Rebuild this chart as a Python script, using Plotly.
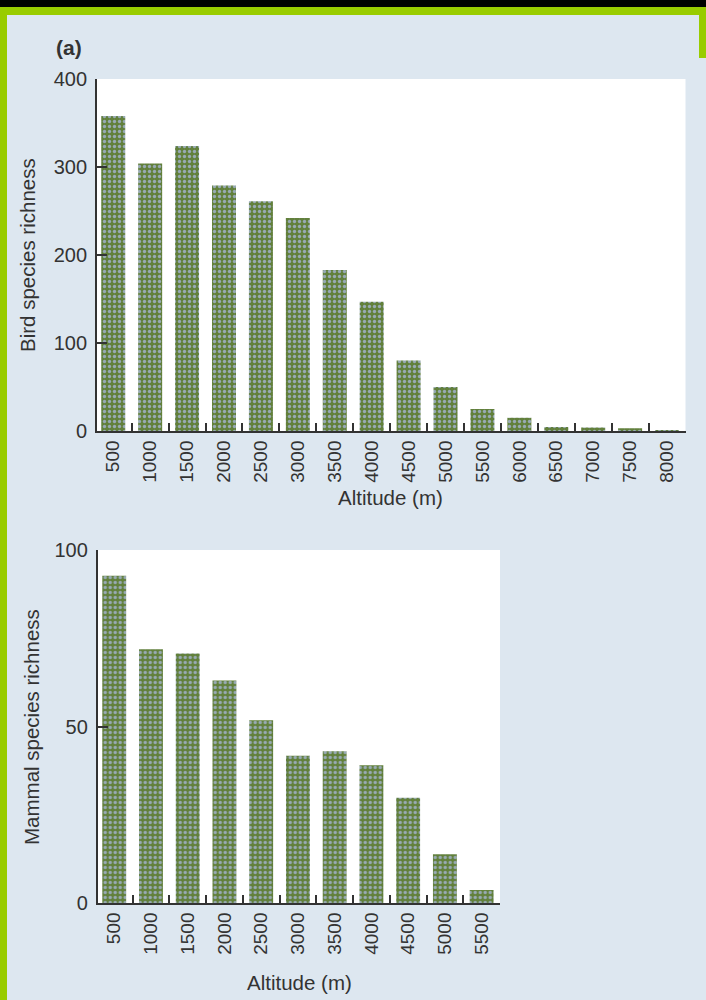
import plotly.graph_objects as go

W, H = 706, 1000

# ---- data ----
bird_altitudes = ["500", "1000", "1500", "2000", "2500", "3000", "3500", "4000",
                  "4500", "5000", "5500", "6000", "6500", "7000", "7500", "8000"]
bird_richness = [358, 304, 324, 279, 261, 242, 183, 147, 80, 50, 25, 15, 4.5, 4, 3, 1]

mammal_altitudes = ["500", "1000", "1500", "2000", "2500", "3000", "3500", "4000",
                    "4500", "5000", "5500"]
mammal_richness = [92.7, 71.9, 70.7, 63, 51.8, 41.7, 43.0, 39.0, 29.8, 13.8, 3.7]

bird_yticks = [0, 100, 200, 300, 400]
mammal_yticks = [0, 50, 100]

# ---- helpers (pixel -> paper) ----
def px(x):
    return x / W

def py(y):
    return 1 - y / H

FONT = "Liberation Sans, Arial, sans-serif"
TXT = "#333333"
AXC = "#333333"
BAR_BG = "#62803c"
BAR_DOT = "#98aab4"

bar_marker = dict(color=BAR_BG, line=dict(width=0),
                  pattern=dict(shape=".", bgcolor=BAR_BG, fgcolor=BAR_DOT,
                               size=5, solidity=0.35, fillmode="replace"))

fig = go.Figure()
fig.add_trace(go.Bar(x=bird_altitudes, y=bird_richness, marker=bar_marker,
                     width=0.65, xaxis="x", yaxis="y", showlegend=False))
fig.add_trace(go.Bar(x=mammal_altitudes, y=mammal_richness, marker=bar_marker,
                     width=0.65, xaxis="x2", yaxis="y2", showlegend=False))

xcommon = dict(type="category", tickangle=-90, ticks="inside", tickson="boundaries",
               ticklen=8, tickwidth=1.5, tickcolor=AXC, showline=True, linecolor=AXC,
               linewidth=1.8, showgrid=False, zeroline=False, automargin=False,
               tickfont=dict(family=FONT, size=19, color=TXT), fixedrange=True)
ycommon = dict(ticks="inside", ticklen=10, tickwidth=1.5, tickcolor=AXC, showline=True,
               linecolor=AXC, linewidth=1.8, showgrid=False, zeroline=False,
               automargin=False,
               tickfont=dict(family=FONT, size=20, color=TXT), ticklabelstandoff=4,
               fixedrange=True)

fig.update_layout(
    template="none",
    width=W, height=H, autosize=False,
    margin=dict(l=0, r=0, t=0, b=0, pad=0),
    paper_bgcolor="#dde7f0",
    plot_bgcolor="white",
    showlegend=False,
    bargap=0.35,
    xaxis=dict(xcommon, domain=[px(97), px(685.5)], range=[-0.44, 15.5], anchor="y"),
    yaxis=dict(ycommon, domain=[py(431), py(79)], range=[0, 400], tickvals=bird_yticks,
               anchor="x"),
    xaxis2=dict(xcommon, domain=[px(97.7), px(500)], range=[-0.45, 10.5], anchor="y2"),
    yaxis2=dict(ycommon, domain=[py(903), py(550)], range=[0, 100], tickvals=mammal_yticks,
                anchor="x2"),
)

ann_font = dict(family=FONT, size=20.5, color=TXT)
fig.add_annotation(text="Bird species richness", x=px(27), y=py(255), xref="paper",
                   yref="paper", textangle=-90, showarrow=False, font=ann_font,
                   xanchor="center", yanchor="middle")
fig.add_annotation(text="Mammal species richness", x=px(31), y=py(727), xref="paper",
                   yref="paper", textangle=-90, showarrow=False, font=ann_font,
                   xanchor="center", yanchor="middle")
fig.add_annotation(text="Altitude (m)", x=px(391), y=py(497), xref="paper", yref="paper",
                   showarrow=False, font=ann_font, xanchor="center", yanchor="middle")
fig.add_annotation(text="Altitude (m)", x=px(299), y=py(982), xref="paper", yref="paper",
                   showarrow=False, font=ann_font, xanchor="center", yanchor="middle")
fig.add_annotation(text="<b>(a)</b>", x=px(54), y=py(47), xref="paper", yref="paper",
                   showarrow=False, font=dict(family=FONT, size=21, color=TXT),
                   xanchor="left", yanchor="middle")

# frame: black strip on top, yellow-green border
shapes = [
    dict(type="rect", xref="paper", yref="paper", x0=0, x1=1, y0=py(7), y1=1,
         fillcolor="black", line=dict(width=0), layer="above"),
    dict(type="rect", xref="paper", yref="paper", x0=0, x1=1, y0=py(15), y1=py(7),
         fillcolor="#99cc00", line=dict(width=0), layer="above"),
    dict(type="rect", xref="paper", yref="paper", x0=0, x1=px(7), y0=0, y1=py(7),
         fillcolor="#99cc00", line=dict(width=0), layer="above"),
    dict(type="rect", xref="paper", yref="paper", x0=px(699), x1=1, y0=py(58), y1=py(7),
         fillcolor="#99cc00", line=dict(width=0), layer="above"),
]
fig.update_layout(shapes=shapes)

fig.write_html(
    "out.html",
    config={"displayModeBar": False, "responsive": False},
    post_script="document.body.style.margin='0';document.body.style.padding='0';"
                "document.body.style.overflow='hidden';"
                "document.body.style.background='#dde7f0';",
)
